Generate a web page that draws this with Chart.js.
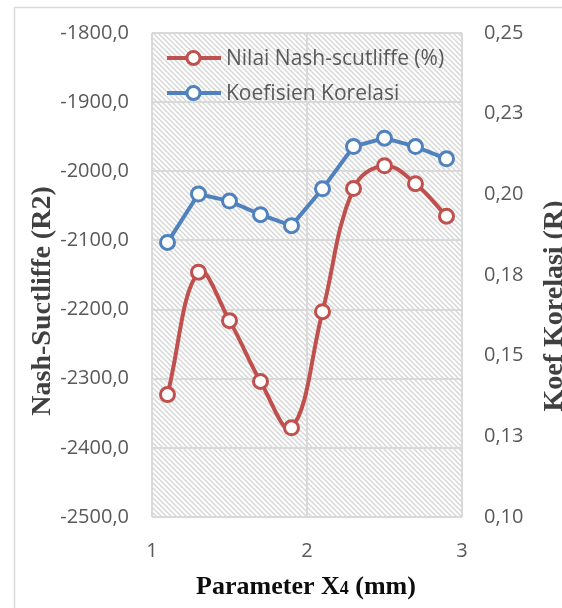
<!DOCTYPE html>
<html>
<head>
<meta charset="utf-8">
<script src="https://cdn.jsdelivr.net/npm/chart.js@4.4.0/dist/chart.umd.min.js"></script>
<style>
  html, body { margin: 0; padding: 0; background: #fff; }
  #wrap { width: 562px; height: 608px; position: relative; }
</style>
</head>
<body>
<div id="wrap"><canvas id="grafik"></canvas></div>
<script>
// nilai parameter X4 (mm)
const parameterX4 = [1.1, 1.3, 1.5, 1.7, 1.9, 2.1, 2.3, 2.5, 2.7, 2.9];
// Nilai Nash-Sutcliffe (sumbu kiri)
const nilaiNash = [-2323, -2146, -2216, -2304, -2371, -2203, -2025, -1992, -2018, -2065];
// Koefisien korelasi (sumbu kanan)
const koefKorelasi = [0.1851, 0.2001, 0.1979, 0.1937, 0.1903, 0.2017, 0.2148, 0.2174, 0.2148, 0.2110];

const labelNash = 'Nilai Nash-scutliffe (%)';
const labelKorelasi = 'Koefisien Korelasi';

const merah = '#c0504d';
const biru = '#4f81bd';
const abu = '#595959';

function buatPola() {
    const c = document.createElement('canvas');
    c.width = 5; c.height = 5;
    const g = c.getContext('2d');
    g.fillStyle = '#ffffff';
    g.fillRect(0, 0, 5, 5);
    g.strokeStyle = '#d6d6d6';
    g.lineWidth = 1.4;
    g.beginPath();
    g.moveTo(-1, -1); g.lineTo(6, 6);
    g.moveTo(-1, 4); g.lineTo(1, 6);
    g.moveTo(4, -1); g.lineTo(6, 1);
    g.stroke();
    return g.createPattern(c, 'repeat');
}

const latarArsir = {
    id: 'latarArsir',
    beforeDraw(chart) {
        const { ctx, chartArea: a } = chart;
        ctx.save();
        ctx.strokeStyle = '#d9d9d9';
        ctx.lineWidth = 1.5;
        ctx.beginPath();
        ctx.moveTo(14.5, 608); ctx.lineTo(14.5, 7.5); ctx.lineTo(562, 7.5);
        ctx.stroke();
        ctx.fillStyle = buatPola();
        ctx.fillRect(a.left, a.top, a.right - a.left, a.bottom - a.top);
        ctx.restore();
    },
    afterDraw(chart) {
        const ctx = chart.ctx;
        ctx.save();
        // legenda
        const items = [[labelNash, merah, 58], [labelKorelasi, biru, 93]];
        items.forEach(([teks, warna, y]) => {
            ctx.strokeStyle = warna;
            ctx.lineWidth = 4;
            ctx.beginPath(); ctx.moveTo(167, y); ctx.lineTo(221, y); ctx.stroke();
            ctx.fillStyle = '#fff';
            ctx.lineWidth = 3;
            ctx.beginPath(); ctx.arc(193.5, y, 6.5, 0, Math.PI * 2); ctx.fill(); ctx.stroke();
            ctx.fillStyle = abu;
            ctx.font = '21px "Open Sans"';
            ctx.textBaseline = 'middle';
            ctx.textAlign = 'left';
            ctx.fillText(teks, 226, y + 1);
        });
        // judul sumbu y
        ctx.fillStyle = '#404040';
        ctx.font = 'bold 28px "Liberation Serif"';
        ctx.textAlign = 'center';
        ctx.textBaseline = 'middle';
        ctx.save();
        ctx.translate(43, 301);
        ctx.rotate(-Math.PI / 2);
        ctx.fillText('Nash-Suctliffe (R2)', 0, 0);
        ctx.restore();
        ctx.save();
        ctx.translate(555, 306);
        ctx.rotate(-Math.PI / 2);
        ctx.fillText('Koef Korelasi (R)', 0, 0);
        ctx.restore();
        // judul sumbu x
        ctx.fillStyle = '#0d0d0d';
        const fBesar = 'bold 26px "Liberation Serif"';
        const fKecil = 'bold 18px "Liberation Serif"';
        const bagian = [['Parameter X', fBesar], ['4', fKecil], [' (mm)', fBesar]];
        let total = 0;
        bagian.forEach(([t, f]) => { ctx.font = f; total += ctx.measureText(t).width; });
        let x = 306 - total / 2;
        ctx.textAlign = 'left';
        ctx.textBaseline = 'alphabetic';
        bagian.forEach(([t, f]) => {
            ctx.font = f;
            ctx.fillText(t, x, 594);
            x += ctx.measureText(t).width;
        });
        ctx.restore();
    }
};

const ctx = document.getElementById('grafik');

new Chart(ctx, {
    type: 'line',
    data: {
        datasets: [{
            label: labelNash,
            data: parameterX4.map((x, i) => ({ x: x, y: nilaiNash[i] })),
            borderColor: merah,
            backgroundColor: '#ffffff',
            borderWidth: 4,
            pointRadius: 7,
            pointBorderWidth: 3,
            pointBackgroundColor: '#ffffff',
            pointBorderColor: merah,
            tension: 0.4,
            yAxisID: 'y'
        }, {
            label: labelKorelasi,
            data: parameterX4.map((x, i) => ({ x: x, y: koefKorelasi[i] })),
            borderColor: biru,
            backgroundColor: '#ffffff',
            borderWidth: 4,
            pointRadius: 7,
            pointBorderWidth: 3,
            pointBackgroundColor: '#ffffff',
            pointBorderColor: biru,
            tension: 0,
            yAxisID: 'y1'
        }]
    },
    options: {
        responsive: true,
        maintainAspectRatio: false,
        animation: false,
        layout: { padding: { top: 0, left: 0, right: 0, bottom: 0 } },
        plugins: {
            legend: { display: false },
            tooltip: { enabled: false }
        },
        scales: {
            x: {
                type: 'linear',
                min: 1,
                max: 3,
                ticks: {
                    stepSize: 1,
                    color: abu,
                    font: { family: 'Open Sans', size: 20 },
                    padding: 22
                },
                grid: { color: '#d9d9d9', lineWidth: 2, drawTicks: false },
                border: { display: false },
                afterFit(s) { s.height = 91; }
            },
            y: {
                position: 'left',
                min: -2500,
                max: -1800,
                ticks: {
                    stepSize: 100,
                    color: abu,
                    font: { family: 'Open Sans', size: 20 },
                    padding: 23,
                    callback: function (v) {
                        return v.toFixed(1).replace('.', ',');
                    }
                },
                grid: { color: '#d9d9d9', lineWidth: 2, drawTicks: false },
                border: { display: false },
                afterFit(s) { s.width = 152; s.paddingTop = 33; }
            },
            y1: {
                position: 'right',
                min: 0.10,
                max: 0.25,
                ticks: {
                    stepSize: 0.025,
                    color: abu,
                    font: { family: 'Open Sans', size: 20 },
                    padding: 22,
                    callback: function (v) {
                        return (Math.round(v * 100 + 1e-6) / 100).toFixed(2).replace('.', ',');
                    }
                },
                grid: { display: false, drawTicks: false },
                border: { display: false },
                afterFit(s) { s.width = 100; s.paddingTop = 33; }
            }
        }
    },
    plugins: [latarArsir]
});
</script>
</body>
</html>
